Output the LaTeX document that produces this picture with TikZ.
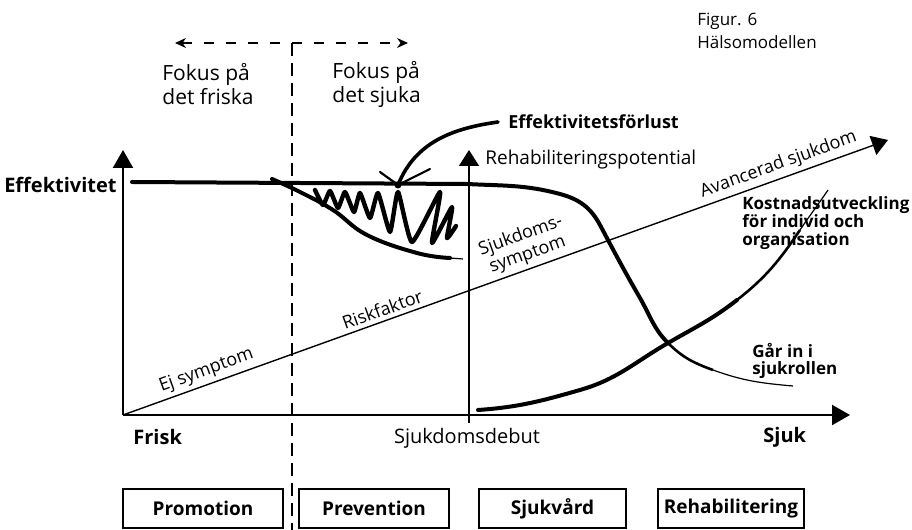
\documentclass[tikz,border=0pt]{standalone}
\usepackage{fontspec}
\setmainfont{Open Sans}
\usetikzlibrary{arrows.meta}

\begin{document}
\begin{tikzpicture}[x=0.5pt,y=0.5pt]
\tikzstyle{every node}+=[inner sep=0pt]
\tikzstyle{axis}=[black, line width=1.1pt, -{Triangle[length=9pt,width=10pt]}]
\tikzstyle{thin axis}=[black, line width=0.7pt, -{Triangle[length=8pt,width=10pt]}]
\tikzstyle{focus}=[black, line width=0.6pt, dash pattern=on 5pt off 6pt, {Stealth[length=5.5pt,width=5pt]}-{Stealth[length=5.5pt,width=5pt]}]
\tikzstyle{divider}=[black, line width=0.6pt, dash pattern=on 6.5pt off 3.5pt]
\tikzstyle{curve}=[black, line width=2pt, line cap=round]
\tikzstyle{phase}=[draw=black, line width=0.9pt, minimum height=19.5pt, font=\fontsize{9.5}{11}\selectfont\bfseries]
\tikzstyle{lbl}=[font=\fontsize{10}{12}\selectfont]
\tikzstyle{blbl}=[font=\fontsize{10}{12}\selectfont\bfseries]
\tikzstyle{slant}=[font=\fontsize{9}{10}\selectfont, sloped, above=2pt, align=center]
\useasboundingbox (0,0) rectangle (912,530);

% axes and help lines
\coordinate (O) at (123,115);
\coordinate (ytip) at (123,380);
\coordinate (xtip) at (850,115);
\coordinate (dtip) at (888,390);
\coordinate (rfoot) at (469,107);
\coordinate (rtip) at (469,380);
\coordinate (dtop) at (292,487);
\coordinate (dbot) at (292,0);
\coordinate (fl) at (175,487);
\coordinate (fr) at (408,487);
\draw [axis] (O) -- (ytip);
\draw [axis] (O) -- (xtip);
\draw [thin axis] (O) -- node[slant, pos=0.115] {Ej symptom}
  node[slant, pos=0.344] {Riskfaktor}
  node[slant, pos=0.535] {Sjukdoms-\\symptom}
  node[slant, pos=0.863] {Avancerad sjukdom} (dtip);
\draw [thin axis] (rfoot) -- (rtip);
\draw [focus] (fl) -- (fr);
\draw [divider] (dtop) -- (dbot);

% texts
\node [blbl, anchor=east] (eff) at (117,345) {Effektivitet};
\node [blbl, anchor=west] (frisk) at (133,93) {Frisk};
\node [lbl] (debut) at (467,92) {Sjukdomsdebut};
\node [blbl, anchor=west] (sjuk) at (763,93) {Sjuk};
\node [font=\fontsize{9.5}{11}\selectfont, anchor=west] (rehab) at (485,370) {Rehabiliteringspotential};
\node [font=\fontsize{9}{11}\selectfont\bfseries, anchor=west] (loss) at (508,408) {Effektivitetsförlust};
\node [font=\fontsize{10.5}{12}\selectfont, anchor=west, align=left] (frisk fokus) at (162,446) {Fokus på\\det friska};
\node [font=\fontsize{10.5}{12}\selectfont, anchor=west, align=left] (sjuk fokus) at (332,446) {Fokus på\\det sjuka};
\node [font=\fontsize{8.5}{11.5}\selectfont, anchor=west, align=left] (title) at (697,499) {Figur. 6\\Hälsomodellen};
\node [font=\fontsize{8.5}{9}\selectfont\bfseries, anchor=west, align=left] (cost) at (742,307) {Kostnadsutveckling\\för individ och\\organisation};
\node [font=\fontsize{8.5}{8.5}\selectfont\bfseries, anchor=west, align=left] (role) at (752,169) {Går in i\\sjukrollen};

% phases
\node [phase, minimum width=80pt] (promo) at (203,21.5) {Promotion};
\node [phase, minimum width=75pt] (prev) at (374,21.5) {Prevention};
\node [phase, minimum width=73.5pt] (vard) at (552.5,21.5) {Sjukvård};
\node [phase, minimum width=73pt] (rehabbox) at (731,21.5) {Rehabilitering};

% efficiency curve
\coordinate (e0) at (132,348);
\coordinate (cross) at (668,187);
\draw [curve] (e0) -- (467,346) to[out=-3,in=165] (560,336) to[out=-15,in=118] (600,305)
  to[out=-62,in=120] (640,232) to[out=-60,in=135] (cross);
\draw [black, line width=1.3pt] (cross) to[out=-45,in=160] (713,160);
\draw [black, line width=0.6pt] (713,160) to[out=-20,in=175] (793,144);

% loss area
\draw [curve] plot[smooth, tension=0.7] coordinates {(272,351) (300,338) (333,320) (367,295) (417,277) (450,272)};
\draw [black, line width=0.6pt] (450,272) -- (463,271);
\draw [black, line width=2.2pt, line join=round, line cap=round] plot[smooth, tension=0.3] coordinates {(315,340) (323,325) (330,339) (338,322) (345,338) (354,318) (360,337) (370,312) (378,337) (390,298) (398,338) (412,288) (440,338) (432,287) (452,323) (447,292) (456,304)};

% loss arrow
\coordinate (hit) at (398,345);
\coordinate (armL) at (380,358);
\coordinate (armR) at (430,361);
\draw [curve, line width=1.8pt] ([xshift=-5pt]loss.west) to[out=188,in=68] (hit);
\draw [black, line width=1.1pt, line cap=round] (armL) -- (hit) -- (armR);
\fill [black] (hit) circle (3.5);

% cost curve
\coordinate (c0) at (478,120);
\draw [curve] (c0) to[out=4,in=196] (580,140) to[out=16,in=210] (cross) to[out=30,in=218] (737,230);
\draw [black, line width=1.3pt] (737,230) to[out=38,in=236] (800,300);
\draw [black, line width=0.6pt] (800,300) to[out=56,in=236] (828,340);
\end{tikzpicture}
\end{document}
